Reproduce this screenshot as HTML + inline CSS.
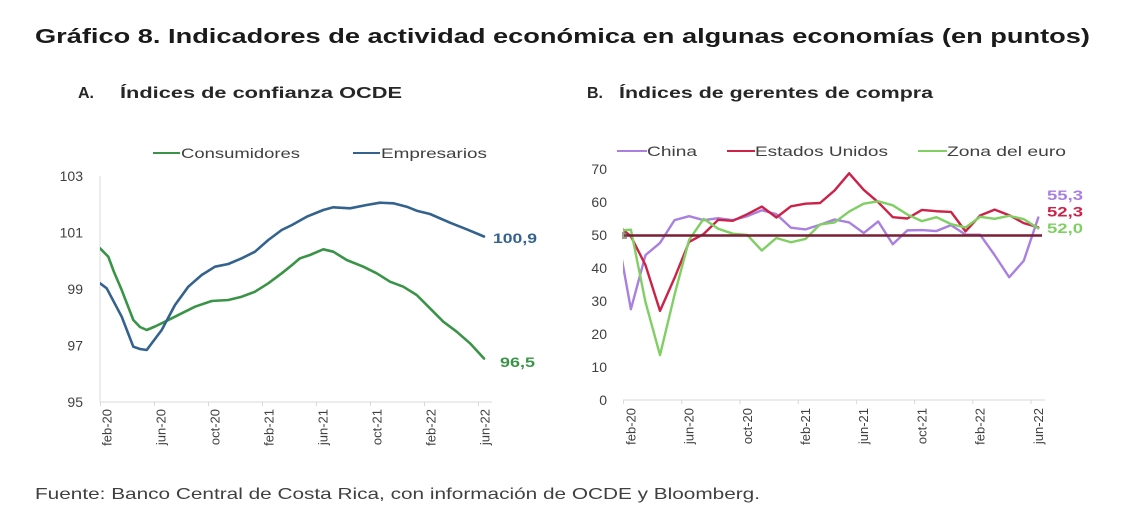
<!DOCTYPE html>
<html><head><meta charset="utf-8"><style>
html,body{margin:0;padding:0;background:#fff;}
svg{display:block;font-family:"Liberation Sans",Arial,sans-serif;}
</style></head><body>
<svg width="1127" height="522" viewBox="0 0 1127 522" xmlns="http://www.w3.org/2000/svg">
<defs>
<clipPath id="ca"><rect x="100" y="150" width="400" height="260"/></clipPath>
<clipPath id="cb"><rect x="623" y="150" width="430" height="260"/></clipPath>
</defs>
<rect width="1127" height="522" fill="#fff"/>
<text x="35" y="43" font-size="20" font-weight="bold" fill="#1a1a1a" textLength="1055" lengthAdjust="spacingAndGlyphs">Gráfico 8. Indicadores de actividad económica en algunas economías (en puntos)</text>
<text x="78" y="98" font-size="16" font-weight="bold" fill="#262626">A.</text>
<text x="120" y="98" font-size="16" font-weight="bold" fill="#262626" textLength="282" lengthAdjust="spacingAndGlyphs">Índices de confianza OCDE</text>
<text x="587" y="98" font-size="16" font-weight="bold" fill="#262626">B.</text>
<text x="619" y="98" font-size="16" font-weight="bold" fill="#262626" textLength="314" lengthAdjust="spacingAndGlyphs">Índices de gerentes de compra</text>

<!-- Chart A legend -->
<line x1="153" y1="153" x2="180" y2="153" stroke="#3a9447" stroke-width="2"/>
<text x="181" y="158" font-size="14" fill="#404040" textLength="119" lengthAdjust="spacingAndGlyphs">Consumidores</text>
<line x1="353" y1="153" x2="380" y2="153" stroke="#34628f" stroke-width="2"/>
<text x="381" y="158" font-size="14" fill="#404040" textLength="106" lengthAdjust="spacingAndGlyphs">Empresarios</text>

<!-- Chart A axes -->
<line x1="100" y1="176" x2="100" y2="402" stroke="#d9d9d9" stroke-width="1"/>
<line x1="100" y1="402" x2="492" y2="402" stroke="#d9d9d9" stroke-width="1"/>
<g stroke="#d9d9d9" stroke-width="1">
<line x1="100.5" y1="402" x2="100.5" y2="406"/><line x1="154.5" y1="402" x2="154.5" y2="406"/>
<line x1="208.5" y1="402" x2="208.5" y2="406"/><line x1="262.5" y1="402" x2="262.5" y2="406"/>
<line x1="316.5" y1="402" x2="316.5" y2="406"/><line x1="370.5" y1="402" x2="370.5" y2="406"/>
<line x1="424.5" y1="402" x2="424.5" y2="406"/><line x1="478.5" y1="402" x2="478.5" y2="406"/>
</g>
<g font-size="14" fill="#404040" text-anchor="end">
<text x="83" y="181">103</text><text x="83" y="237.5">101</text><text x="83" y="294">99</text><text x="83" y="350.5">97</text><text x="83" y="407">95</text>
</g>
<g font-size="13" fill="#404040" text-anchor="end">
<text transform="translate(111.5,409) rotate(-90)">feb-20</text>
<text transform="translate(165.5,409) rotate(-90)">jun-20</text>
<text transform="translate(219.5,409) rotate(-90)">oct-20</text>
<text transform="translate(273.5,409) rotate(-90)">feb-21</text>
<text transform="translate(327.5,409) rotate(-90)">jun-21</text>
<text transform="translate(381.5,409) rotate(-90)">oct-21</text>
<text transform="translate(435.5,409) rotate(-90)">feb-22</text>
<text transform="translate(489.5,409) rotate(-90)">jun-22</text>
</g>
<g clip-path="url(#ca)" fill="none" stroke-width="2.6" stroke-linejoin="round" stroke-linecap="round">
<polyline stroke="#3a9447" points="100,248.3 108.3,256.7 114,272 121.7,290 133.3,320 140,327 146.7,330 155,326.5 165,321.7 181.7,313.3 195,306.7 211.7,301 228.3,300 241.7,296.7 255,291.7 268.3,283.3 281.7,273.3 290,266.7 300,258.3 310,255 323.3,249.3 333.3,251.7 346.7,260 363.3,266.7 376.7,273.3 390,281.7 403.3,286.7 416.7,295 430,308.3 443.3,321.7 456.7,331.7 470,343.3 484,358.5"/>
<polyline stroke="#34628f" points="100,283.3 106.7,288.3 121.7,316.7 133.3,346.7 140,349 146.7,350 161.7,330 175,305 188.3,286.7 201.7,275 215,266.7 228.3,264 241.7,258.3 255,251.7 268.3,240 281.7,230 292,225 306.7,216.7 323.3,210 333.3,207.3 350,208.3 366.7,205 380,202.7 393.3,203.3 406.7,206.7 416.7,210.7 430,214 450,222.7 466.7,229.3 484,236.5"/>
</g>
<text x="493" y="243" font-size="14" font-weight="bold" fill="#34628f" textLength="44" lengthAdjust="spacingAndGlyphs">100,9</text>
<text x="500" y="367" font-size="14" font-weight="bold" fill="#3a9447" textLength="35" lengthAdjust="spacingAndGlyphs">96,5</text>

<!-- Chart B legend -->
<line x1="617" y1="151" x2="647" y2="151" stroke="#a97fdf" stroke-width="2"/>
<text x="647" y="156" font-size="14" fill="#404040" textLength="50" lengthAdjust="spacingAndGlyphs">China</text>
<line x1="727" y1="151" x2="755" y2="151" stroke="#cc2248" stroke-width="2"/>
<text x="755" y="156" font-size="14" fill="#404040" textLength="133" lengthAdjust="spacingAndGlyphs">Estados Unidos</text>
<line x1="918" y1="151" x2="947" y2="151" stroke="#7fcf63" stroke-width="2"/>
<text x="947" y="156" font-size="14" fill="#404040" textLength="119" lengthAdjust="spacingAndGlyphs">Zona del euro</text>

<!-- Chart B axes -->
<line x1="623" y1="400" x2="1045" y2="400" stroke="#d9d9d9" stroke-width="1"/>
<g stroke="#d9d9d9" stroke-width="1">
<line x1="623.6" y1="400" x2="623.6" y2="404"/><line x1="681.8" y1="400" x2="681.8" y2="404"/>
<line x1="740" y1="400" x2="740" y2="404"/><line x1="798.2" y1="400" x2="798.2" y2="404"/>
<line x1="856.4" y1="400" x2="856.4" y2="404"/><line x1="914.6" y1="400" x2="914.6" y2="404"/>
<line x1="972.8" y1="400" x2="972.8" y2="404"/><line x1="1031" y1="400" x2="1031" y2="404"/>
</g>
<g font-size="14" fill="#404040" text-anchor="end">
<text x="607" y="174">70</text><text x="607" y="207">60</text><text x="607" y="240">50</text><text x="607" y="273">40</text>
<text x="607" y="306">30</text><text x="607" y="339">20</text><text x="607" y="372">10</text><text x="607" y="405">0</text>
</g>
<g font-size="13" fill="#404040" text-anchor="end">
<text transform="translate(635.4,408) rotate(-90)">feb-20</text>
<text transform="translate(693.6,408) rotate(-90)">jun-20</text>
<text transform="translate(751.8,408) rotate(-90)">oct-20</text>
<text transform="translate(810,408) rotate(-90)">feb-21</text>
<text transform="translate(868.2,408) rotate(-90)">jun-21</text>
<text transform="translate(926.4,408) rotate(-90)">oct-21</text>
<text transform="translate(984.6,408) rotate(-90)">feb-22</text>
<text transform="translate(1042.8,408) rotate(-90)">jun-22</text>
</g>
<g clip-path="url(#cb)" fill="none" stroke-width="2.4" stroke-linejoin="round" stroke-linecap="round">
<polyline stroke="#a97fdf" points="616.35,228.73 630.9,309.25 645.45,255.13 660,242.92 674.55,220.15 689.1,216.19 703.65,220.15 718.2,218.17 732.75,220.15 747.3,216.19 761.85,210.25 776.4,214.21 790.95,227.74 805.5,229.39 820.05,224.77 834.6,219.49 849.15,222.46 863.7,233.02 878.25,221.47 892.8,244.24 907.35,230.38 921.9,230.05 936.45,231.04 951,225.1 965.55,234.67 980.1,234.67 994.65,255.13 1009.2,277.24 1023.75,260.74 1038.3,217.51"/>
<polyline stroke="#cc2248" points="616.35,224.11 630.9,236.32 645.45,265.03 660,310.9 674.55,277.9 689.1,241.93 703.65,234.01 718.2,219.82 732.75,220.81 747.3,214.21 761.85,206.62 776.4,217.51 790.95,206.29 805.5,203.65 820.05,202.99 834.6,190.45 849.15,173.29 863.7,189.79 878.25,202.33 892.8,217.18 907.35,218.5 921.9,209.92 936.45,211.24 951,211.9 965.55,231.37 980.1,215.53 994.65,209.59 1009.2,215.2 1023.75,223.12 1038.3,227.41"/>
<polyline stroke="#7fcf63" points="616.35,230.71 630.9,229.72 645.45,301.99 660,355.12 674.55,294.73 689.1,239.95 703.65,218.83 718.2,228.73 732.75,233.68 747.3,235 761.85,250.51 776.4,237.97 790.95,242.26 805.5,238.96 820.05,224.44 834.6,222.46 849.15,211.57 863.7,203.65 878.25,201.34 892.8,205.3 907.35,214.54 921.9,221.14 936.45,217.18 951,224.11 965.55,227.41 980.1,216.85 994.65,218.83 1009.2,215.86 1023.75,219.16 1038.3,228.4"/>
</g>
<line x1="624" y1="235.5" x2="1042" y2="235.5" stroke="#7a1e34" stroke-width="2.6"/>
<rect x="622" y="232" width="5" height="7" fill="#6b5a4a" opacity="0.6"/>
<text x="1047" y="200" font-size="14" font-weight="bold" fill="#a97fdf" textLength="36" lengthAdjust="spacingAndGlyphs">55,3</text>
<text x="1047" y="216.5" font-size="14" font-weight="bold" fill="#cc2248" textLength="36" lengthAdjust="spacingAndGlyphs">52,3</text>
<text x="1047" y="233" font-size="14" font-weight="bold" fill="#7fcf63" textLength="36" lengthAdjust="spacingAndGlyphs">52,0</text>

<text x="35" y="499" font-size="16" fill="#404040" textLength="725" lengthAdjust="spacingAndGlyphs">Fuente: Banco Central de Costa Rica, con información de OCDE y Bloomberg.</text>
</svg>
</body></html>
